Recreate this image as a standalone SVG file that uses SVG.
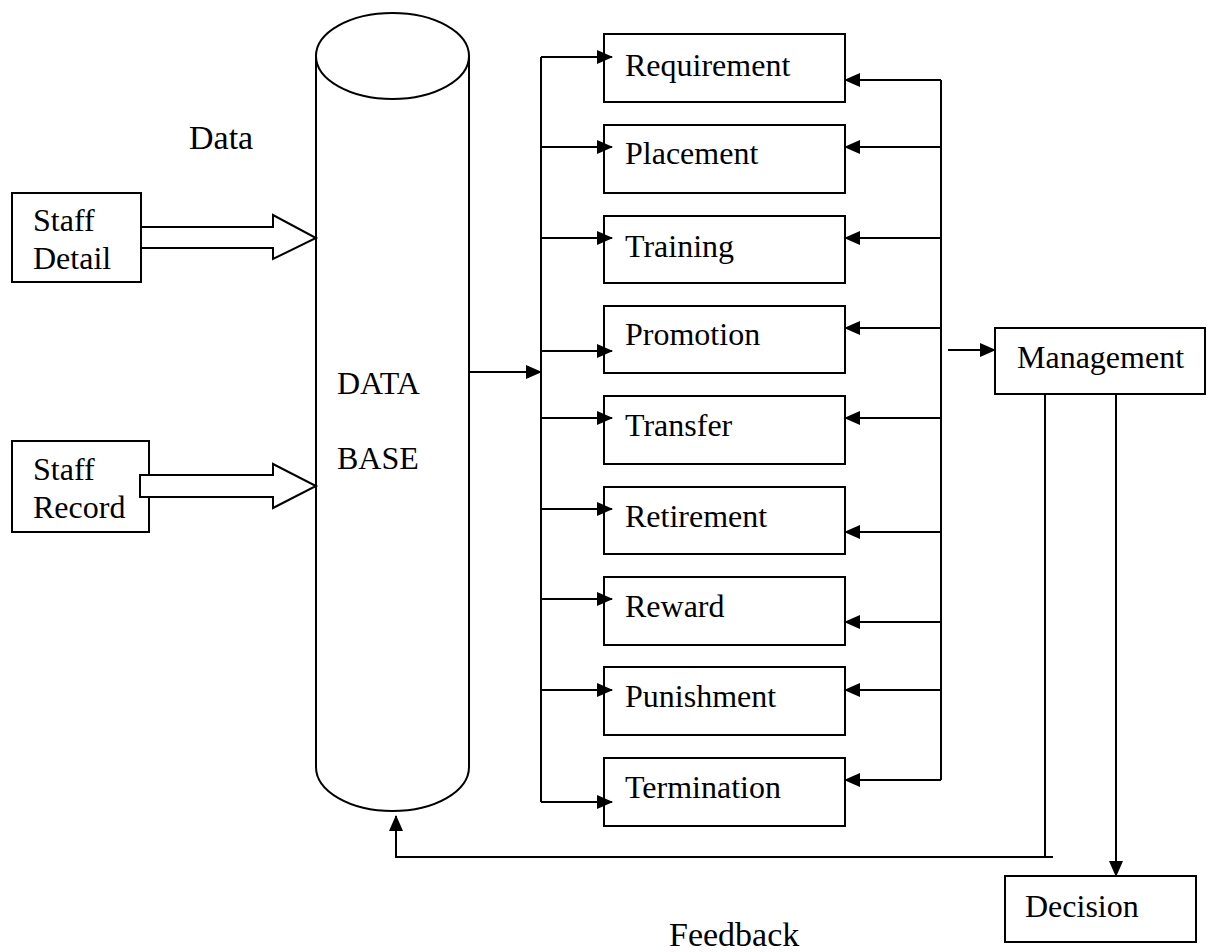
<svg xmlns="http://www.w3.org/2000/svg" width="1207" height="952" viewBox="0 0 1207 952">
<style>
.s{fill:#fff;stroke:#000;stroke-width:2}
.l{fill:none;stroke:#000;stroke-width:2}
.t{font-family:"Liberation Serif","Times New Roman",serif;font-size:32px;fill:#000}
.b{font-size:34px}
</style>
<defs>
<marker id="ah" markerUnits="userSpaceOnUse" markerWidth="16" markerHeight="14" viewBox="0 0 16 14" refX="15" refY="7" orient="auto">
<path d="M0,0 L16,7 L0,14 Z" fill="#000"/>
</marker>
</defs>
<rect width="1207" height="952" fill="#fff"/>
<g id="database">
<path class="s" d="M316,56 L316,767 A76.5,44 0 0 0 469,767 L469,56"/>
<ellipse class="s" cx="392.5" cy="56" rx="76.5" ry="43"/>
<text class="t" x="337" y="394">DATA</text>
<text class="t" x="337" y="469">BASE</text>
</g>
<g id="staff-detail">
<rect class="s" x="12" y="193" width="129" height="89"/>
<text class="t" x="33" y="231">Staff</text>
<text class="t" x="33" y="269">Detail</text>
</g>
<g id="staff-record">
<rect class="s" x="12" y="441" width="137" height="91"/>
<text class="t" x="33" y="480">Staff</text>
<text class="t" x="33" y="518">Record</text>
</g>
<g id="req"><rect class="s" x="604" y="34" width="241" height="68"/><text class="t" x="625" y="76">Requirement</text></g>
<g id="place"><rect class="s" x="604" y="125" width="241" height="68"/><text class="t" x="625" y="164">Placement</text></g>
<g id="train"><rect class="s" x="604" y="216" width="241" height="67"/><text class="t" x="625" y="257">Training</text></g>
<g id="promo"><rect class="s" x="604" y="306" width="241" height="67"/><text class="t" x="625" y="345">Promotion</text></g>
<g id="transfer"><rect class="s" x="604" y="396" width="241" height="68"/><text class="t" x="625" y="436">Transfer</text></g>
<g id="retire"><rect class="s" x="604" y="487" width="241" height="67"/><text class="t" x="625" y="527">Retirement</text></g>
<g id="reward"><rect class="s" x="604" y="577" width="241" height="68"/><text class="t" x="625" y="617">Reward</text></g>
<g id="punish"><rect class="s" x="604" y="667" width="241" height="68"/><text class="t" x="625" y="707">Punishment</text></g>
<g id="term"><rect class="s" x="604" y="758" width="241" height="68"/><text class="t" x="625" y="798">Termination</text></g>
<g id="management"><rect class="s" x="995" y="328" width="210" height="66"/><text class="t" x="1017" y="368">Management</text></g>
<g id="decision"><rect class="s" x="1005" y="876" width="191" height="66"/><text class="t" x="1025" y="917">Decision</text></g>
<g id="labels">
<text class="t b" x="189" y="149">Data</text>
<text class="t b" x="669" y="946">Feedback</text>
</g>
<g id="connectors">
<polygon class="s" points="141,227 273,227 273,215 316,238 273,259 273,248 141,248"/>
<polygon class="s" points="140,475 273,475 273,464 316,486 273,508 273,497 140,497"/>
<line class="l" x1="469" y1="372" x2="541" y2="372" marker-end="url(#ah)"/>
<line class="l" x1="541" y1="57" x2="541" y2="802"/>
<line class="l" x1="541" y1="57" x2="612" y2="57" marker-end="url(#ah)"/>
<line class="l" x1="541" y1="147" x2="612" y2="147" marker-end="url(#ah)"/>
<line class="l" x1="541" y1="238" x2="612" y2="238" marker-end="url(#ah)"/>
<line class="l" x1="541" y1="351" x2="612" y2="351" marker-end="url(#ah)"/>
<line class="l" x1="541" y1="418" x2="612" y2="418" marker-end="url(#ah)"/>
<line class="l" x1="541" y1="509" x2="612" y2="509" marker-end="url(#ah)"/>
<line class="l" x1="541" y1="599" x2="612" y2="599" marker-end="url(#ah)"/>
<line class="l" x1="541" y1="690" x2="612" y2="690" marker-end="url(#ah)"/>
<line class="l" x1="541" y1="802" x2="612" y2="802" marker-end="url(#ah)"/>
<line class="l" x1="941" y1="80" x2="941" y2="780"/>
<line class="l" x1="941" y1="80" x2="845" y2="80" marker-end="url(#ah)"/>
<line class="l" x1="941" y1="147" x2="845" y2="147" marker-end="url(#ah)"/>
<line class="l" x1="941" y1="238" x2="845" y2="238" marker-end="url(#ah)"/>
<line class="l" x1="941" y1="328" x2="845" y2="328" marker-end="url(#ah)"/>
<line class="l" x1="941" y1="418" x2="845" y2="418" marker-end="url(#ah)"/>
<line class="l" x1="941" y1="532" x2="845" y2="532" marker-end="url(#ah)"/>
<line class="l" x1="941" y1="622" x2="845" y2="622" marker-end="url(#ah)"/>
<line class="l" x1="941" y1="690" x2="845" y2="690" marker-end="url(#ah)"/>
<line class="l" x1="941" y1="780" x2="845" y2="780" marker-end="url(#ah)"/>
<line class="l" x1="948" y1="350" x2="995" y2="350" marker-end="url(#ah)"/>
<polyline class="l" points="1045,394 1045,857"/>
<polyline class="l" points="1053,857 396,857 396,816" marker-end="url(#ah)"/>
<line class="l" x1="1116" y1="394" x2="1116" y2="876" marker-end="url(#ah)"/>
</g>
</svg>
